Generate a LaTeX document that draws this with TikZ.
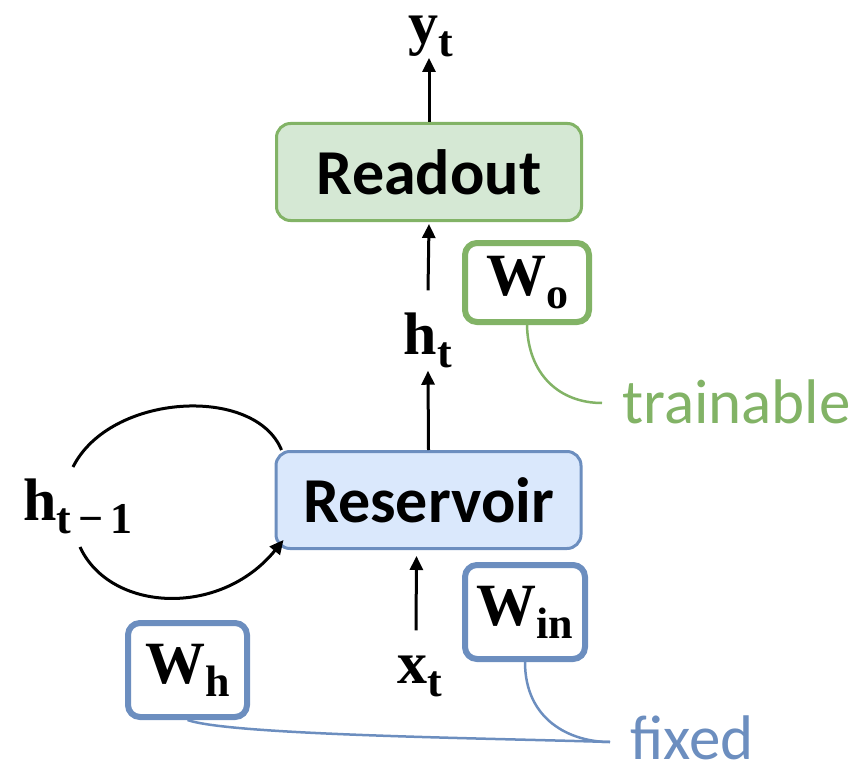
\documentclass[tikz,border=0pt]{standalone}
\usepackage{fontspec}
\newfontfamily\calib{Carlito}
\newfontfamily\mser{Liberation Serif}
\usetikzlibrary{arrows.meta}
\definecolor{gline}{HTML}{82B366}
\definecolor{gfill}{HTML}{D5E8D4}
\definecolor{bline}{HTML}{6C8EBF}
\definecolor{bfill}{HTML}{DAE8FC}
\newcommand{\mysub}[1]{\raisebox{-13pt}{\fontsize{44}{44}\selectfont #1}}
\tikzset{
  bigbox/.style={draw, line width=3pt, rounded corners=14pt, minimum width=305pt, minimum height=97pt, font=\calib\bfseries\fontsize{64}{64}\selectfont},
  wbox/.style={draw, fill=white, line width=6pt, rounded corners=12pt, inner sep=0pt, font=\mser\bfseries\fontsize{60}{60}\selectfont},
  mlabel/.style={inner sep=0pt, font=\mser\bfseries\fontsize{60}{60}\selectfont},
  arr/.style={line width=3pt, -{Triangle[length=14pt,width=13pt]}},
  callout/.style={line width=2.5pt},
}
\begin{document}
\begin{tikzpicture}[x=1pt,y=-1pt]
\useasboundingbox (0,0) rectangle (859,765);
\node[bigbox, draw=gline, fill=gfill] (readout) at (429,172) {Readout};
\node[bigbox, draw=bline, fill=bfill] (reservoir) at (428.5,500) {Reservoir};
\node[mlabel] (yt) at (431,36) {y\mysub{t}};
\node[mlabel] (ht) at (428,340) {h\mysub{t}};
\node[mlabel] (xt) at (420,676) {x\mysub{t}};
\node[mlabel] (htm) at (78,506) {h\mysub{t\,−\,1}};
\node[wbox, draw=gline, minimum width=124pt, minimum height=79pt] (wo) at (527,282.5) {W\mysub{o}};
\node[wbox, draw=bline, minimum width=120pt, minimum height=94pt] (win) at (525,612) {W\mysub{in}};
\node[wbox, draw=bline, minimum width=119pt, minimum height=94pt] (wh) at (187.5,670) {W\mysub{h}};
\node[inner sep=0pt, text=gline, font=\calib\fontsize{63}{63}\selectfont, anchor=base west] (train) at (622,423) {trainable};
\node[inner sep=0pt, text=bline, font=\calib\fontsize{63}{63}\selectfont, anchor=base west] (fixed) at (630,759) {fixed};
% arrows
\draw[arr] (readout.north) -- ++(0,-64);
\draw[arr] ([yshift=22pt]ht.north) -- ([yshift=-2pt]readout.south);
\draw[arr] (reservoir.north) -- ([yshift=-3pt]ht.south);
\draw[arr] ([xshift=-4pt,yshift=25pt]xt.north) -- ([xshift=-12pt,yshift=-6pt]reservoir.south);
% loop
\coordinate (lt) at (73,467);
\coordinate (lb) at (80,547);
\draw[line width=3pt] (lt) .. controls (110,393) and (255,385) .. ([xshift=7pt]reservoir.north west);
\draw[arr] (lb) .. controls (110,612) and (220,618) .. ([xshift=9pt,yshift=10pt]reservoir.south west);
% callouts
\draw[callout, gline] (wo.south) .. controls (528,375) and (560,403) .. ([xshift=-20pt,yshift=20pt]train.base west);
\draw[callout, bline] (win.south) .. controls (525,720) and (570,742) .. ([xshift=-20pt,yshift=17pt]fixed.base west);
\draw[callout, bline] (wh.south) .. controls (230,735) and (480,738) .. ([xshift=-20pt,yshift=17pt]fixed.base west);
\end{tikzpicture}
\end{document}
